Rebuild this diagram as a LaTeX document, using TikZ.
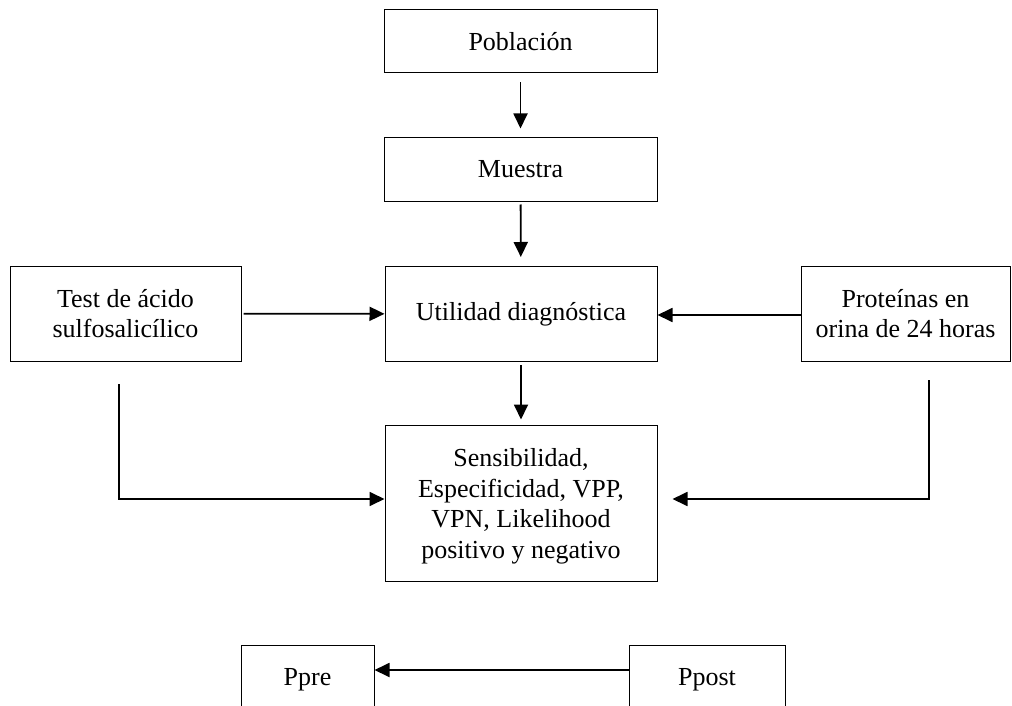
\documentclass[tikz,border=0pt]{standalone}
\usepackage{fontspec}
\setmainfont{Liberation Serif}
\usetikzlibrary{arrows.meta}

\begin{document}
\begin{tikzpicture}[x=1pt, y=-1pt,
        caja/.style={draw, line width=1pt, align=center, inner sep=0pt,
                font=\fontsize{26}{30.7}\selectfont},
        flecha/.style={line width=1.8pt, -{Triangle[length=15pt,width=14pt]}}]
        \useasboundingbox (0,0) rectangle (1012,706);
        \clip (0,0) rectangle (1012,706);

        % cajas
        \node (pob) [caja, minimum width=273pt, minimum height=63pt] at (520.5,41.5) {Población};
        \node (mue) [caja, minimum width=273pt, minimum height=63pt] at (520.5,169.5) {Muestra};
        \node (uti) [caja, minimum width=272pt, minimum height=95pt] at (521,314) {Utilidad diagnóstica};
        \node (test) [caja, minimum width=231pt, minimum height=95pt] at (125.5,313.5) {Test de ácido\\sulfosalicílico};
        \node (prot) [caja, minimum width=209pt, minimum height=95pt] at (905.5,313.5) {Proteínas en\\orina de 24 horas};
        \node (sens) [caja, minimum width=272pt, minimum height=156pt] at (521,503) {\\[-6pt]Sensibilidad,\\Especificidad, VPP,\\VPN, Likelihood\\positivo y negativo};
        \node (ppre) [caja, minimum width=133pt, minimum height=70pt] at (307.5,680) {Ppre};
        \node (ppost) [caja, minimum width=156pt, minimum height=70pt] at (707,680) {Ppost};

        \coordinate (izq) at (119,384);
        \coordinate (der) at (929,380);

        % flechas
        \draw [flecha, shorten <=9pt, shorten >=9pt] (pob) -- (mue);
        \draw [flecha, shorten <=3pt, shorten >=9pt] (mue) -- (uti);
        \draw [flecha, shorten <=3pt, shorten >=5pt] (uti) -- (sens);
        \draw [flecha, shorten <=2pt] (test) -- (uti);
        \draw [flecha] (prot.west |- 0,315) -- (uti.east |- 0,315);
        \draw [flecha] (izq) |- (sens.west |- 0,499);
        \draw [flecha, shorten >=15pt] (der) |- (sens.east |- 0,499);
        \draw [flecha] (ppost.west |- 0,670) -- (ppre.east |- 0,670);
\end{tikzpicture}
\end{document}
